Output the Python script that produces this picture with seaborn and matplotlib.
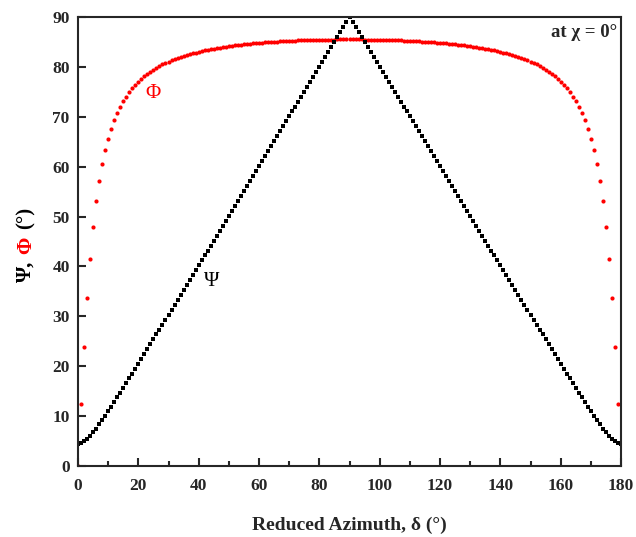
import numpy as np
import matplotlib
matplotlib.use("Agg")
import matplotlib.pyplot as plt
import seaborn as sns
from matplotlib.ticker import MultipleLocator

# reduced azimuth, one point per degree
delta = np.arange(0, 181)

# Phi (red dots)
phi = [
    0.00, 12.50, 23.92, 33.62, 41.55, 47.92, 53.02, 57.14, 60.50, 63.29,
    65.61, 67.57, 69.27, 70.72, 71.98, 73.09, 74.06, 74.93, 75.71, 76.41,
    77.04, 77.61, 78.14, 78.61, 79.05, 79.45, 79.82, 80.17, 80.48, 80.78,
    81.05, 81.31, 81.55, 81.78, 81.99, 82.19, 82.37, 82.55, 82.72, 82.87,
    83.02, 83.16, 83.29, 83.42, 83.54, 83.65, 83.76, 83.86, 83.95, 84.05,
    84.13, 84.21, 84.29, 84.37, 84.44, 84.51, 84.58, 84.64, 84.70, 84.75,
    84.81, 84.86, 84.91, 84.95, 85.00, 85.04, 85.08, 85.11, 85.15, 85.18,
    85.21, 85.24, 85.27, 85.30, 85.32, 85.34, 85.36, 85.38, 85.40, 85.42,
    85.43, 85.44, 85.46, 85.47, 85.47, 85.48, 85.49, 85.49, 85.50, 85.50,
    85.50,
    85.50, 85.50, 85.49, 85.49, 85.48, 85.47, 85.47, 85.46, 85.44, 85.43,
    85.42, 85.40, 85.38, 85.36, 85.34, 85.32, 85.30, 85.27, 85.24, 85.21,
    85.18, 85.15, 85.11, 85.08, 85.04, 85.00, 84.95, 84.91, 84.86, 84.81,
    84.75, 84.70, 84.64, 84.58, 84.51, 84.44, 84.37, 84.29, 84.21, 84.13,
    84.05, 83.95, 83.86, 83.76, 83.65, 83.54, 83.42, 83.29, 83.16, 83.02,
    82.87, 82.72, 82.55, 82.37, 82.19, 81.99, 81.78, 81.55, 81.31, 81.05,
    80.78, 80.48, 80.17, 79.82, 79.45, 79.05, 78.61, 78.14, 77.61, 77.04,
    76.41, 75.71, 74.93, 74.06, 73.09, 71.98, 70.72, 69.27, 67.57, 65.61,
    63.29, 60.50, 57.14, 53.02, 47.92, 41.55, 33.62, 23.92, 12.50, 0.00,
]

# Psi (black squares)
psi = [
    4.50, 4.61, 4.92, 5.41, 6.02, 6.73, 7.50, 8.32, 9.18, 10.05,
    10.96, 11.87, 12.80, 13.74, 14.69, 15.65, 16.61, 17.57, 18.54, 19.51,
    20.48, 21.46, 22.43, 23.41, 24.39, 25.38, 26.36, 27.35, 28.33, 29.32,
    30.31, 31.29, 32.28, 33.27, 34.26, 35.25, 36.24, 37.23, 38.23, 39.22,
    40.21, 41.20, 42.20, 43.19, 44.18, 45.18, 46.17, 47.16, 48.16, 49.15,
    50.15, 51.14, 52.14, 53.13, 54.13, 55.12, 56.12, 57.11, 58.11, 59.11,
    60.10, 61.10, 62.09, 63.09, 64.09, 65.08, 66.08, 67.07, 68.07, 69.07,
    70.06, 71.06, 72.06, 73.05, 74.05, 75.05, 76.04, 77.04, 78.04, 79.03,
    80.03, 81.03, 82.02, 83.02, 84.02, 85.02, 86.01, 87.01, 88.01, 89.00,
    90.00,
    89.00, 88.01, 87.01, 86.01, 85.02, 84.02, 83.02, 82.02, 81.03, 80.03,
    79.03, 78.04, 77.04, 76.04, 75.05, 74.05, 73.05, 72.06, 71.06, 70.06,
    69.07, 68.07, 67.07, 66.08, 65.08, 64.09, 63.09, 62.09, 61.10, 60.10,
    59.11, 58.11, 57.11, 56.12, 55.12, 54.13, 53.13, 52.14, 51.14, 50.15,
    49.15, 48.16, 47.16, 46.17, 45.18, 44.18, 43.19, 42.20, 41.20, 40.21,
    39.22, 38.23, 37.23, 36.24, 35.25, 34.26, 33.27, 32.28, 31.29, 30.31,
    29.32, 28.33, 27.35, 26.36, 25.38, 24.39, 23.41, 22.43, 21.46, 20.48,
    19.51, 18.54, 17.57, 16.61, 15.65, 14.69, 13.74, 12.80, 11.87, 10.96,
    10.05, 9.18, 8.32, 7.50, 6.73, 6.02, 5.41, 4.92, 4.61, 4.50,
]

sns.set_style("ticks")
plt.rcParams['font.family'] = ['Liberation Serif', 'DejaVu Serif']

fig = plt.figure(figsize=(6.36, 5.37), dpi=100)
ax = fig.add_axes([78/636, 1 - 466/537, 543/636, 449/537])

sns.scatterplot(x=delta, y=phi, color='red', marker='o', s=9, linewidth=0, ax=ax)
sns.scatterplot(x=delta, y=psi, color='black', marker='s', s=6, linewidth=0, ax=ax)

ax.set_xlim(0, 180)
ax.set_ylim(0, 90)
ax.xaxis.set_major_locator(MultipleLocator(20))
ax.xaxis.set_minor_locator(MultipleLocator(10))
ax.yaxis.set_major_locator(MultipleLocator(10))
ax.tick_params(which='both', direction='in', top=False, right=False, width=1.5, labelsize=12.5)
ax.tick_params(axis='x', pad=9)
ax.tick_params(axis='y', pad=6)
ax.tick_params(which='major', length=6)
ax.tick_params(which='minor', length=3.5)
for lab in ax.get_xticklabels() + ax.get_yticklabels():
    lab.set_fontweight('bold')
for sp in ax.spines.values():
    sp.set_linewidth(1.5)

ax.set_xlabel('Reduced Azimuth, δ (°)', fontsize=14, fontweight='bold', labelpad=16)

# curve labels
ax.text(24.9, 74.7, 'Φ', color='red', fontsize=15, ha='center', va='center')
ax.text(44.4, 36.9, 'Ψ', color='black', fontsize=15, ha='center', va='center')
ax.text(0.993, 0.965, 'at χ = 0°', transform=ax.transAxes, fontsize=13.5,
        fontweight='bold', ha='right', va='center')

# two-colour y label, stacked bottom to top
fig.canvas.draw()
r = fig.canvas.get_renderer()
ypix = 537 - 282
for txt, col in [('Ψ,', 'black'), ('Φ', 'red'), ('(°)', 'black')]:
    t = fig.text(26 / 636, ypix / 537, txt, color=col, fontsize=15, fontweight='bold',
                 rotation=90, ha='center', va='bottom')
    bb = t.get_window_extent(renderer=r)
    ypix = bb.y1 + 7

fig.savefig('out.png', dpi=100)
